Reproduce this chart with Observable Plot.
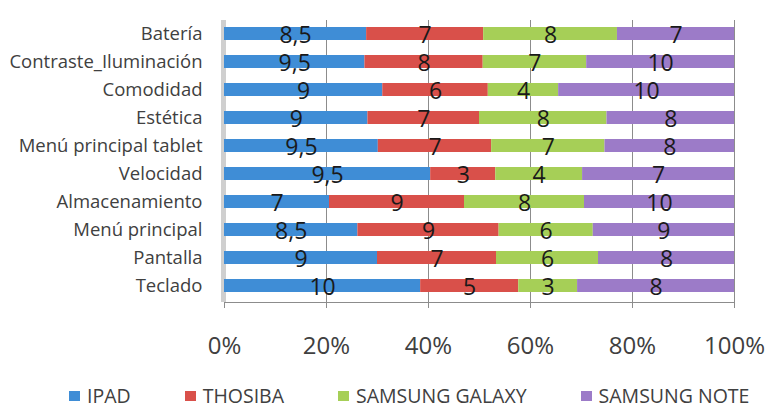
<!DOCTYPE html>
<html>
<head>
<meta charset="utf-8">
<script src="https://cdn.jsdelivr.net/npm/d3@7"></script>
<script src="https://cdn.jsdelivr.net/npm/@observablehq/plot@0.6"></script>
<style>
  html, body { margin: 0; padding: 0; background: #fff; }
  #wrap { width: 771px; height: 409px; overflow: hidden; font-family: "Open Sans", sans-serif; }
  #legend { display: flex; align-items: center; gap: 54px; padding-left: 69px; padding-top: 24px; font-size: 19.5px; color: #404040; line-height: 20px; }
  .item { display: flex; align-items: center; gap: 7px; }
  .sw { width: 11px; height: 10px; display: inline-block; }
</style>
</head>
<body>
<div id="wrap">
  <div id="chart"></div>
  <div id="legend"></div>
</div>
<script>
const categories = ["Batería","Contraste_Iluminación","Comodidad","Estética","Menú principal tablet","Velocidad","Almacenamiento","Menú principal","Pantalla","Teclado"];
const series = ["IPAD","THOSIBA","SAMSUNG GALAXY","SAMSUNG NOTE"];
const ipad    = [8.5, 9.5, 9, 9, 9.5, 9.5, 7, 8.5, 9, 10];
const thosiba = [7, 8, 6, 7, 7, 3, 9, 9, 7, 5];
const galaxy  = [8, 7, 4, 8, 7, 4, 8, 6, 6, 3];
const note    = [7, 10, 10, 8, 8, 7, 10, 9, 8, 8];
const colors  = ["#3f8dd6", "#d9504a", "#a6cf57", "#9c7bc8"];
const xTicks  = [0, 0.2, 0.4, 0.6, 0.8, 1];

const seriesValues = [ipad, thosiba, galaxy, note];
const data = [];
categories.forEach((c, i) => {
  series.forEach((s, j) => data.push({cat: c, series: s, value: seriesValues[j][i]}));
});
const fmt = v => String(v).replace(".", ",");

const chart = Plot.plot({
  width: 771,
  height: 362,
  marginLeft: 224,
  marginRight: 37,
  marginTop: 20,
  marginBottom: 60,
  style: {fontFamily: "'Open Sans', sans-serif", background: "white", overflow: "visible"},
  x: {domain: [0, 1]},
  y: {domain: categories, paddingInner: 0.54, paddingOuter: 0.247, align: 0.39},
  color: {domain: series, range: colors},
  marks: [
    Plot.gridX(xTicks, {stroke: "#8c8c8c", strokeOpacity: 1}),
    Plot.ruleX([0], {stroke: "#cfcfcf", strokeWidth: 5, dx: -1}),
    Plot.barX(data, Plot.stackX({x: "value", y: "cat", fill: "series", offset: "normalize", order: series})),
    Plot.text(data, Plot.stackX({x: "value", y: "cat", z: "series", offset: "normalize", order: series,
      text: d => fmt(d.value), fontSize: 23, dy: 2, fill: "#1a1a1a"})),
    Plot.frame({anchor: "bottom", stroke: "#8c8c8c"}),
    Plot.axisX(xTicks, {tickFormat: d => Math.round(d * 100) + "%", tickSize: 6, tickPadding: 28,
      fontSize: 24, stroke: "#8c8c8c", fill: "#404040", label: null}),
    Plot.axisY({tickSize: 0, tickPadding: 22, fontSize: 18.5, fill: "#404040", label: null})
  ]
});
document.getElementById("chart").appendChild(chart);

const legend = document.getElementById("legend");
series.forEach((s, j) => {
  const it = document.createElement("div");
  it.className = "item";
  const sw = document.createElement("span");
  sw.className = "sw";
  sw.style.background = colors[j];
  const t = document.createElement("span");
  t.textContent = s;
  it.appendChild(sw);
  it.appendChild(t);
  legend.appendChild(it);
});
</script>
</body>
</html>
